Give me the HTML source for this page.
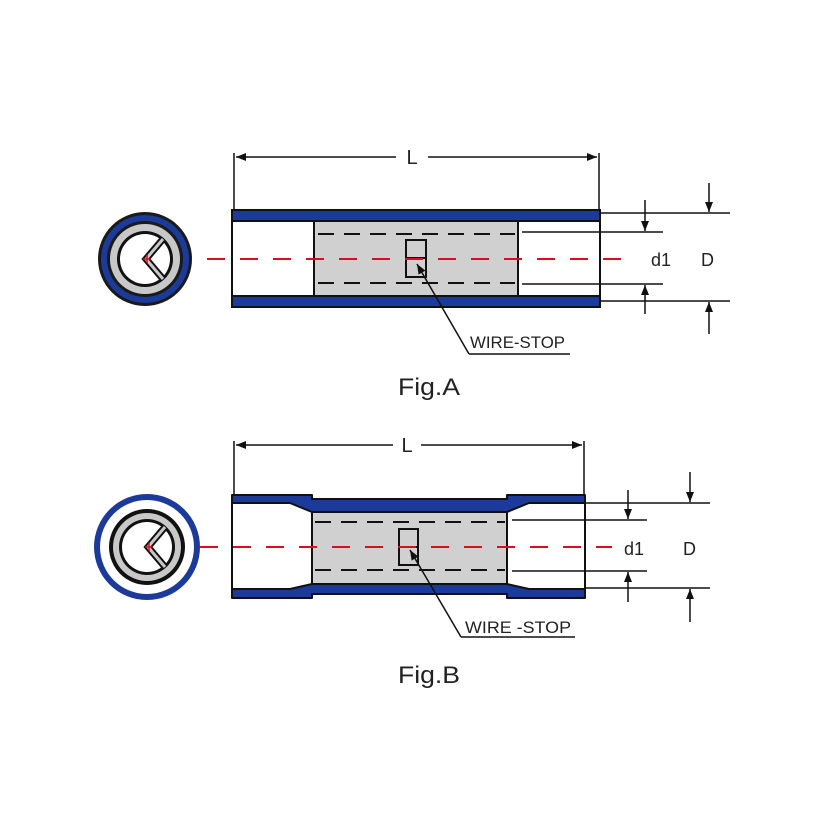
<!DOCTYPE html>
<html><head><meta charset="utf-8"><style>
html,body{margin:0;padding:0;background:#fff;}
svg{display:block;}
text{font-family:"Liberation Sans",sans-serif;fill:#222;}
</style></head><body>
<svg width="833" height="833" viewBox="0 0 833 833" xmlns="http://www.w3.org/2000/svg">
<defs>
<marker id="ar" markerWidth="10" markerHeight="8" refX="10" refY="4" orient="auto" markerUnits="userSpaceOnUse">
<path d="M0,0 L10,4 L0,8 z" fill="#111"/></marker>
</defs>

<!-- ===== Fig A ===== -->
<g>
<circle cx="145" cy="259" r="47" fill="#1a1a1a"/>
<circle cx="145" cy="259" r="44" fill="#1b3a9a"/>
<circle cx="145" cy="259" r="38" fill="#1a1a1a"/>
<circle cx="145" cy="259" r="35" fill="#c8c8c8"/>
<circle cx="145" cy="259" r="28" fill="#111"/>
<circle cx="145" cy="259" r="25" fill="#fff"/>
<path d="M163,239 L146,259 L163,279" fill="none" stroke="#111" stroke-width="7"/>
<path d="M163,239 L146,259 L163,279" fill="none" stroke="#c8c8c8" stroke-width="3"/>
<path d="M143,259 h8 M147,255 v8" stroke="#d5101e" stroke-width="1.5"/>
</g>
<rect x="232" y="210" width="368" height="97" fill="#fff" stroke="#111" stroke-width="2"/>
<rect x="314" y="221" width="204" height="75" fill="#d0d0d0" stroke="#111" stroke-width="2"/>
<rect x="232" y="210" width="368" height="11" fill="#1b3a9a" stroke="#111" stroke-width="2"/>
<rect x="232" y="296" width="368" height="11" fill="#1b3a9a" stroke="#111" stroke-width="2"/>
<line x1="318" y1="234" x2="515" y2="234" stroke="#111" stroke-width="2" stroke-dasharray="16,10"/>
<line x1="318" y1="283" x2="515" y2="283" stroke="#111" stroke-width="2" stroke-dasharray="16,10"/>
<rect x="406" y="240" width="20" height="37" fill="none" stroke="#111" stroke-width="2"/>
<line x1="406" y1="258" x2="426" y2="258" stroke="#111" stroke-width="2"/>
<line x1="207" y1="259" x2="625" y2="259" stroke="#d5101e" stroke-width="2" stroke-dasharray="18,15"/>
<line x1="234" y1="153" x2="234" y2="210" stroke="#111" stroke-width="1.5"/>
<line x1="599" y1="153" x2="599" y2="210" stroke="#111" stroke-width="1.5"/>
<line x1="396" y1="157" x2="236" y2="157" stroke="#111" stroke-width="1.5" marker-end="url(#ar)"/>
<line x1="428" y1="157" x2="597" y2="157" stroke="#111" stroke-width="1.5" marker-end="url(#ar)"/>
<text x="412" y="164" font-size="20" text-anchor="middle">L</text>
<line x1="600" y1="213" x2="730" y2="213" stroke="#111" stroke-width="1.5"/>
<line x1="522" y1="232" x2="663" y2="232" stroke="#111" stroke-width="1.5"/>
<line x1="522" y1="284" x2="663" y2="284" stroke="#111" stroke-width="1.5"/>
<line x1="600" y1="301" x2="730" y2="301" stroke="#111" stroke-width="1.5"/>
<line x1="645" y1="200" x2="645" y2="231" stroke="#111" stroke-width="1.5" marker-end="url(#ar)"/>
<line x1="645" y1="314" x2="645" y2="285" stroke="#111" stroke-width="1.5" marker-end="url(#ar)"/>
<line x1="709" y1="183" x2="709" y2="212" stroke="#111" stroke-width="1.5" marker-end="url(#ar)"/>
<line x1="709" y1="334" x2="709" y2="302" stroke="#111" stroke-width="1.5" marker-end="url(#ar)"/>
<text x="651" y="266" font-size="18" textLength="20">d1</text>
<text x="701" y="266" font-size="18">D</text>
<line x1="469" y1="354" x2="570" y2="354" stroke="#111" stroke-width="1.5"/>
<line x1="469" y1="354" x2="417" y2="264" stroke="#111" stroke-width="1.5" marker-end="url(#ar)"/>
<text x="470" y="348" font-size="17" textLength="95" lengthAdjust="spacingAndGlyphs">WIRE-STOP</text>
<text x="398" y="395" font-size="24" textLength="62" lengthAdjust="spacingAndGlyphs">Fig.A</text>

<!-- ===== Fig B ===== -->
<g>
<circle cx="147" cy="547" r="53" fill="#1b3a9a"/>
<circle cx="147" cy="547" r="47" fill="#fff"/>
<circle cx="147" cy="547" r="38" fill="#111"/>
<circle cx="147" cy="547" r="34" fill="#c8c8c8"/>
<circle cx="147" cy="547" r="28" fill="#111"/>
<circle cx="147" cy="547" r="25" fill="#fff"/>
<path d="M165,527 L148,547 L165,567" fill="none" stroke="#111" stroke-width="7"/>
<path d="M165,527 L148,547 L165,567" fill="none" stroke="#c8c8c8" stroke-width="3"/>
<path d="M145,547 h8 M149,543 v8" stroke="#d5101e" stroke-width="1.5"/>
</g>
<rect x="232" y="495" width="353" height="103" fill="#fff"/>
<rect x="312" y="512" width="195" height="72" fill="#d0d0d0"/>
<path d="M232,495 L312,495 L312,499 L507,499 L507,495 L585,495 L585,503 L529,503 L507,512 L312,512 L290,503 L232,503 Z" fill="#1b3a9a" stroke="#111" stroke-width="2" stroke-linejoin="round"/>
<path d="M232,598 L312,598 L312,594 L507,594 L507,598 L585,598 L585,589 L529,589 L507,584 L312,584 L290,589 L232,589 Z" fill="#1b3a9a" stroke="#111" stroke-width="2" stroke-linejoin="round"/>
<line x1="232" y1="495" x2="232" y2="598" stroke="#111" stroke-width="2"/>
<line x1="585" y1="495" x2="585" y2="598" stroke="#111" stroke-width="2"/>
<line x1="312" y1="512" x2="312" y2="584" stroke="#111" stroke-width="2"/>
<line x1="507" y1="512" x2="507" y2="584" stroke="#111" stroke-width="2"/>
<line x1="315" y1="522" x2="505" y2="522" stroke="#111" stroke-width="2" stroke-dasharray="16,10"/>
<line x1="315" y1="570" x2="505" y2="570" stroke="#111" stroke-width="2" stroke-dasharray="16,10"/>
<rect x="399" y="529" width="19" height="36" fill="none" stroke="#111" stroke-width="2"/>
<line x1="399" y1="547" x2="418" y2="547" stroke="#111" stroke-width="2"/>
<line x1="200" y1="547" x2="612" y2="547" stroke="#d5101e" stroke-width="2" stroke-dasharray="18,15"/>
<line x1="234" y1="441" x2="234" y2="495" stroke="#111" stroke-width="1.5"/>
<line x1="584" y1="441" x2="584" y2="495" stroke="#111" stroke-width="1.5"/>
<line x1="393" y1="445" x2="236" y2="445" stroke="#111" stroke-width="1.5" marker-end="url(#ar)"/>
<line x1="421" y1="445" x2="582" y2="445" stroke="#111" stroke-width="1.5" marker-end="url(#ar)"/>
<text x="407" y="452" font-size="20" text-anchor="middle">L</text>
<line x1="585" y1="503" x2="710" y2="503" stroke="#111" stroke-width="1.5"/>
<line x1="512" y1="520" x2="647" y2="520" stroke="#111" stroke-width="1.5"/>
<line x1="512" y1="571" x2="647" y2="571" stroke="#111" stroke-width="1.5"/>
<line x1="585" y1="588" x2="710" y2="588" stroke="#111" stroke-width="1.5"/>
<line x1="628" y1="490" x2="628" y2="519" stroke="#111" stroke-width="1.5" marker-end="url(#ar)"/>
<line x1="628" y1="602" x2="628" y2="572" stroke="#111" stroke-width="1.5" marker-end="url(#ar)"/>
<line x1="690" y1="472" x2="690" y2="502" stroke="#111" stroke-width="1.5" marker-end="url(#ar)"/>
<line x1="690" y1="622" x2="690" y2="589" stroke="#111" stroke-width="1.5" marker-end="url(#ar)"/>
<text x="624" y="555" font-size="18" textLength="20">d1</text>
<text x="683" y="555" font-size="18">D</text>
<line x1="461" y1="637" x2="575" y2="637" stroke="#111" stroke-width="1.5"/>
<line x1="461" y1="637" x2="410" y2="550" stroke="#111" stroke-width="1.5" marker-end="url(#ar)"/>
<text x="465" y="633" font-size="17" textLength="106" lengthAdjust="spacingAndGlyphs">WIRE -STOP</text>
<text x="398" y="683" font-size="24" textLength="62" lengthAdjust="spacingAndGlyphs">Fig.B</text>
</svg>
</body></html>
